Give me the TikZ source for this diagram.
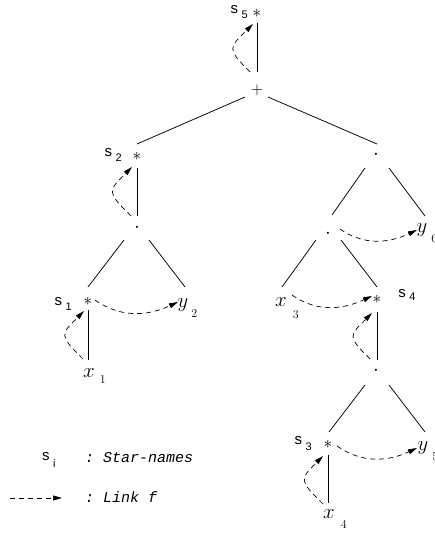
\documentclass[tikz,border=0pt]{standalone}
\usepackage{fontspec}
\setsansfont{Liberation Sans}
\setmonofont{Liberation Mono}
\usetikzlibrary{arrows.meta}

\newcommand\sublab[1]{{\sffamily\fontsize{11}{11}\selectfont #1}}
\newcommand\slabel[3]{\raisebox{-#2}{\sffamily\fontsize{15}{15}\selectfont s}\hspace{3.5pt}\raisebox{-#3}{\sublab{#1}}}
\newcommand\starglyph{\raisebox{-4.5pt}{\fontsize{18}{18}\selectfont$\ast$}}
\newcommand\leftstar[4]{\llap{\slabel{#1}{#2}{#3}\hspace{#4}}\starglyph}
\newcommand\rightstar[4]{\starglyph\rlap{\hspace{#4}\slabel{#1}{#2}{#3}}}
\newcommand\leaf[4]{\raisebox{-4.3pt}{\fontsize{20}{20}\selectfont$#1$}\rlap{\hspace{#3}\raisebox{-#4}{\fontsize{12}{12}\selectfont #2}}}
\newcommand\dotglyph{\raisebox{-5.5pt}{\fontsize{22}{22}\selectfont$\cdot$}}
\newcommand\plusglyph{\raisebox{-4pt}{\fontsize{16}{16}\selectfont$+$}}

\begin{document}
\begin{tikzpicture}[x=1pt,y=1pt,
  vtx/.style={inner sep=0pt, text height=0pt, text depth=0pt, minimum size=0pt},
  tree/.style={line width=0.75pt},
  link/.style={line width=0.7pt, dash pattern=on 5pt off 4pt, -{Triangle[length=9pt,width=5pt]}},
  lp/.style={out=135,in=225,looseness=1.8},
  hz/.style={out=-35,in=205},
  legtext/.style={inner sep=0pt, anchor=base west, font=\ttfamily\itshape\fontsize{15}{15}\selectfont}]
\useasboundingbox (0,-534) rectangle (435,0);

% nodes
\node[vtx] (st5) at (257,-13) {\leftstar{5}{0.5pt}{5.5pt}{5pt}};
\node[vtx] (plus) at (257,-91) {\plusglyph};
\node[vtx] (st2) at (137,-156) {\leftstar{2}{1pt}{6pt}{11pt}};
\node[vtx] (d1) at (376,-154) {\dotglyph};
\node[vtx] (d2) at (137,-227) {\dotglyph};
\node[vtx] (st1) at (88,-301) {\leftstar{1}{4pt}{9pt}{12pt}};
\node[vtx] (y2) at (183,-303) {\leaf{y}{2}{3pt}{14pt}};
\node[vtx] (x1) at (89,-373) {\leaf{x}{1}{5pt}{10pt}};
\node[vtx] (d3) at (328,-233) {\dotglyph};
\node[vtx] (y6) at (422,-228) {\leaf{y}{6}{4pt}{14pt}};
\node[vtx] (x3) at (281,-302) {\leaf{x}{3}{6pt}{16pt}};
\node[vtx] (st4) at (377,-299) {\rightstar{4}{-2pt}{1pt}{17pt}};
\node[vtx] (d4) at (376,-370) {\dotglyph};
\node[vtx] (st3) at (328,-444) {\leftstar{3}{0pt}{6pt}{12pt}};
\node[vtx] (y5) at (423,-446) {\leaf{y}{5}{4pt}{14pt}};
\node[vtx] (x4) at (329,-514) {\leaf{x}{4}{6pt}{14pt}};

% tree edges
\draw[tree] ([shift={(0,-10)}]st5.center) -- ([shift={(0,19)}]plus.center);
\draw[tree] ([shift={(-12,-6)}]plus.center) -- ([shift={(0,12)}]st2.center);
\draw[tree] ([shift={(11,-6)}]plus.center) -- ([shift={(1,10)}]d1.center);
\draw[tree] ([shift={(0,-12)}]st2.center) -- ([shift={(0,11)}]d2.center);
\draw[tree] ([shift={(-13,-13)}]d2.center) -- ([shift={(0,14)}]st1.center);
\draw[tree] ([shift={(12,-13)}]d2.center) -- ([shift={(2,16)}]y2.center);
\draw[tree] ([shift={(0,-9)}]st1.center) -- ([shift={(-1,13)}]x1.center);
\draw[tree] ([shift={(-11,-14)}]d1.center) -- ([shift={(4,18)}]d3.center);
\draw[tree] ([shift={(13,-14)}]d1.center) -- ([shift={(3,12)}]y6.center);
\draw[tree] ([shift={(-12,-7)}]d3.center) -- ([shift={(1,15)}]x3.center);
\draw[tree] ([shift={(13,-7)}]d3.center) -- ([shift={(0,12)}]st4.center);
\draw[tree] ([shift={(0,-13)}]st4.center) -- ([shift={(1,10)}]d4.center);
\draw[tree] ([shift={(-11,-15)}]d4.center) -- ([shift={(1,12)}]st3.center);
\draw[tree] ([shift={(13,-15)}]d4.center) -- ([shift={(2,14)}]y5.center);
\draw[tree] ([shift={(0,-11)}]st3.center) -- ([shift={(-1,11)}]x4.center);

% links
\draw[link] ([shift={(-7,19)}]plus.center) to[lp] ([shift={(-4,-11)}]st5.center);
\draw[link] ([shift={(-6,11)}]d2.center) to[lp] ([shift={(-5,-11)}]st2.center);
\draw[link] ([shift={(-6,14)}]x1.center) to[lp] ([shift={(-4,-10)}]st1.center);
\draw[link] ([shift={(-6,11)}]d4.center) to[lp] ([shift={(-5,-14)}]st4.center);
\draw[link] ([shift={(-6,10)}]x4.center) to[lp] ([shift={(-5,-12)}]st3.center);
\draw[link] ([shift={(7,1)}]st1.center) to[hz] ([shift={(-5,1)}]y2.center);
\draw[link] ([shift={(12,4)}]d3.center) to[hz] ([shift={(-5,-2)}]y6.center);
\draw[link] ([shift={(11,7)}]x3.center) to[hz] ([shift={(-5,3)}]st4.center);
\draw[link] ([shift={(9,-2)}]st3.center) to[hz] ([shift={(-6,-2)}]y5.center);

% legend
\node[inner sep=0pt, anchor=base west] (legs) at (42,-460)
  {{\sffamily\fontsize{15}{15}\selectfont s}\hspace{3.5pt}\raisebox{-7pt}{\sublab{i}}};
\node[legtext] (legt1) at (85,-462) {: Star-names};
\coordinate (lega) at (10,-498);
\coordinate (legb) at (62,-498);
\draw[link] (lega) -- (legb);
\node[legtext] (legt2) at (85,-502) {: Link f};
\end{tikzpicture}
\end{document}
